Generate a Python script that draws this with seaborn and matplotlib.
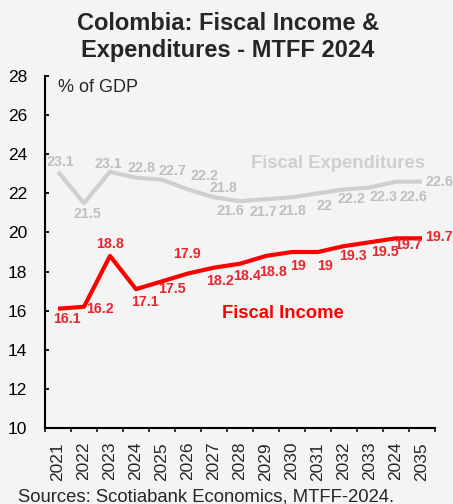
import matplotlib
matplotlib.use("Agg")
import matplotlib.pyplot as plt
import seaborn as sns
import pandas as pd
import numpy as np

years = ["2021", "2022", "2023", "2024", "2025", "2026", "2027", "2028",
         "2029", "2030", "2031", "2032", "2033", "2024", "2035"]
expenditures = [23.1, 21.5, 23.1, 22.8, 22.7, 22.2, 21.8, 21.6, 21.7, 21.8,
                22.0, 22.2, 22.3, 22.6, 22.6]
income = [16.1, 16.2, 18.8, 17.1, 17.5, 17.9, 18.2, 18.4, 18.8, 19.0,
          19.0, 19.3, 19.5, 19.7, 19.7]
exp_labels = ["23.1", "21.5", "23.1", "22.8", "22.7", "22.2", "21.8", "21.6",
              "21.7", "21.8", "22", "22.2", "22.3", "22.6", "22.6"]
inc_labels = ["16.1", "16.2", "18.8", "17.1", "17.5", "17.9", "18.2", "18.4",
              "18.8", "19", "19", "19.3", "19.5", "19.7", "19.7"]

# label offsets in pixels (dx right, dy down)
exp_off = [(2, -10), (3, 11), (-2, -8), (6, -10), (10, -9), (17, -13), (9, -9),
           (-10, 10), (-3, 13), (0, 14), (7, 13), (8, 10), (13, 10), (17, 15), (17, 0)]
inc_off = [(9, 10), (16, 2), (0, -12), (9, 13), (10, 8), (-1, -20), (6, 13),
           (7, 12), (7, 16), (6, 14), (7, 14), (9, 10), (15, 10), (12, 7), (17, -1)]

BG = "#F3F4F3"
RED = "#FF0000"
RED_TXT = "#E8262E"
GREY = "#D0CECE"
GREY_TXT = "#BFBFBF"

sns.set_style("ticks")
plt.rcParams["font.family"] = ["Liberation Sans", "DejaVu Sans"]

fig = plt.figure(figsize=(4.53, 5.04), dpi=100, facecolor=BG)
ax = fig.add_axes([45/453, 1 - 428/504, 390/453, 352/504])
ax.set_facecolor(BG)

idx = np.arange(len(years))
df = pd.DataFrame({"x": np.concatenate([idx, idx]),
                   "value": expenditures + income,
                   "series": ["Fiscal Expenditures"] * len(idx) + ["Fiscal Income"] * len(idx)})
sns.lineplot(data=df, x="x", y="value", hue="series",
             palette={"Fiscal Expenditures": GREY, "Fiscal Income": RED},
             linewidth=3, legend=False, ax=ax, solid_capstyle="butt")

px = 72 / 100
for i, (v, t, (dx, dy)) in enumerate(zip(expenditures, exp_labels, exp_off)):
    ax.annotate(t, (i, v), xytext=(dx * px, -dy * px), textcoords="offset points",
                ha="center", va="center", fontsize=10.3, fontweight="bold", color=GREY_TXT)
for i, (v, t, (dx, dy)) in enumerate(zip(income, inc_labels, inc_off)):
    ax.annotate(t, (i, v), xytext=(dx * px, -dy * px), textcoords="offset points",
                ha="center", va="center", fontsize=10.3, fontweight="bold", color=RED_TXT)

ax.set_xlim(-0.5, len(years) - 0.5)
ax.set_ylim(10, 28)
ax.set_yticks(np.arange(10, 29, 2))
ax.tick_params(axis="y", direction="in", length=3, width=1.3, labelsize=12.5, pad=13, colors="black")
ax.set_xticks(idx)
ax.set_xticklabels(years, rotation=90)
ax.tick_params(axis="x", which="major", length=0, labelsize=12.5, pad=10)
ax.set_xticks(np.arange(-0.5, len(years)), minor=True)
ax.tick_params(axis="x", which="minor", direction="out", length=3, width=1.3)
ax.set_xlabel("")
ax.set_ylabel("")
for s in ["top", "right"]:
    ax.spines[s].set_visible(False)
for s in ["left", "bottom"]:
    ax.spines[s].set_linewidth(1.5)
    ax.spines[s].set_color("black")

fig.text(58/453, 1 - 87/504, "% of GDP", fontsize=13, ha="left", va="center")
fig.text(338/453, 1 - 163/504, "Fiscal Expenditures", fontsize=13.3, fontweight="bold",
         color=GREY, ha="center", va="center")
fig.text(283/453, 1 - 314/504, "Fiscal Income", fontsize=13.3, fontweight="bold",
         color=RED, ha="center", va="center")
fig.text(228/453, 1 - 23/504, "Colombia: Fiscal Income &", fontsize=17, fontweight="bold",
         ha="center", va="center")
fig.text(228/453, 1 - 50/504, "Expenditures - MTFF 2024", fontsize=17, fontweight="bold",
         ha="center", va="center")
fig.text(18/453, 1 - 497/504, "Sources: Scotiabank Economics, MTFF-2024.", fontsize=13.3,
         ha="left", va="center")

fig.savefig("out.png", dpi=100, facecolor=BG)
